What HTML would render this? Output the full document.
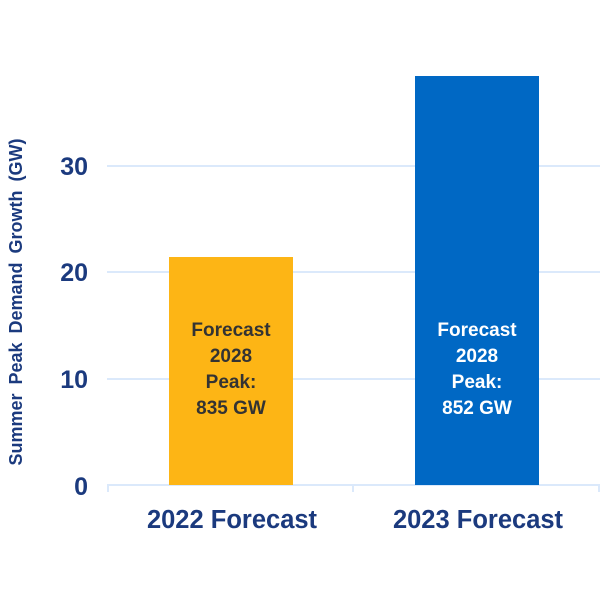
<!DOCTYPE html>
<html><head><style>body{margin:0;background:#fff}</style></head><body>
<svg width="600" height="600" xmlns="http://www.w3.org/2000/svg" font-family="Liberation Sans, sans-serif" font-weight="bold">
<g stroke="#dbe9fb" stroke-width="2">
<line x1="107" y1="166" x2="600" y2="166"/>
<line x1="107" y1="272" x2="600" y2="272"/>
<line x1="107" y1="379" x2="600" y2="379"/>
<line x1="107" y1="485" x2="600" y2="485"/>
<line x1="108" y1="485" x2="108" y2="492"/>
<line x1="353" y1="485" x2="353" y2="492"/>
<line x1="599" y1="485" x2="599" y2="492"/>
</g>
<rect x="169" y="257" width="124" height="228" fill="#fdb515"/>
<rect x="415" y="76" width="124" height="409" fill="#0068c4"/>
<g fill="#1b3a7e" font-size="25" text-anchor="end">
<text x="88" y="175">30</text><text x="88" y="281">20</text><text x="88" y="388">10</text><text x="88" y="495">0</text>
</g>
<text transform="translate(22,302) rotate(-90)" text-anchor="middle" fill="#1b3a7e" font-size="18" word-spacing="4">Summer Peak Demand Growth (GW)</text>
<g fill="#1b3a7e" font-size="25.5" text-anchor="middle">
<text x="232" y="528">2022 Forecast</text><text x="478" y="528">2023 Forecast</text>
</g>
<g font-size="19" text-anchor="middle">
<g fill="#333">
<text x="231" y="336">Forecast</text><text x="231" y="362">2028</text><text x="231" y="388">Peak:</text><text x="231" y="414">835 GW</text>
</g>
<g fill="#fff">
<text x="477" y="336">Forecast</text><text x="477" y="362">2028</text><text x="477" y="388">Peak:</text><text x="477" y="414">852 GW</text>
</g>
</g>
</svg>
</body></html>
